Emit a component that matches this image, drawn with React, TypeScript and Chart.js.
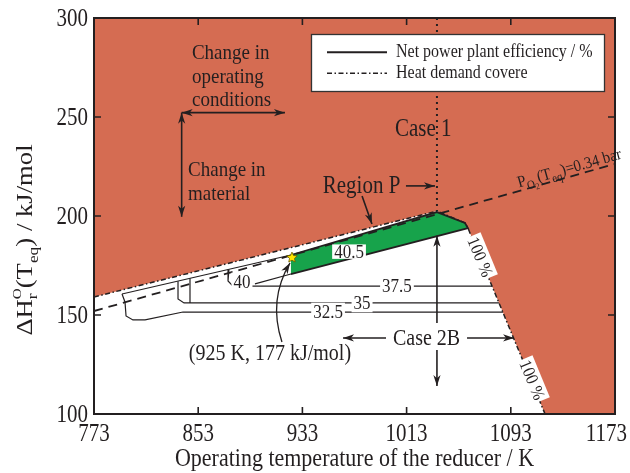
import React, { useEffect, useRef } from "react";
import { Chart, registerables } from "chart.js";

Chart.register(...registerables);

const FONT = "'Liberation Serif', 'Times New Roman', serif";
const INK = "#231f20";
const RED = "#d56c52";
const GREEN = "#17a34b";

// ---------- axes ----------
const xTicks = [773, 853, 933, 1013, 1093, 1173];
const yTicks = [100, 150, 200, 250, 300];
const xTitle = "Operating temperature of the reducer / K";
const legendLabels = ["Net power plant efficiency / %", "Heat demand covere"];

// ---------- boundaries ----------
// heat demand covered (dash-dot) boundary
const heatDemandX = [773, 1036.3, 1057.8, 1060.1, 1119.3];
const heatDemandY = [159.1, 202.5, 196.5, 193.9, 100];
// infeasible region (above boundary)
const redRegionX = [773, 1036.3, 1057.8, 1060.1, 1119.3, 1173, 1173, 773];
const redRegionY = [159.1, 202.5, 196.5, 193.9, 100, 100, 300, 300];
// Region P (40.5 %)
const regionPX = [924.2, 1036.3, 1057.8, 1060.1, 924.2];
const regionPY = [180.3, 202.0, 196.5, 193.9, 170.7];
// P_O2(T_eq) = 0.34 bar
const pO2X = [773, 1173];
const pO2Y = [152.0, 226.3];
// Case 1 (dotted)
const case1X = [1036.3, 1036.3];
const case1Y = [300, 202.5];

// ---------- efficiency contours ----------
const effTopX = [794.5, 924.2];
const effTopY = [160.6, 180.3];
const eff325X = [794.5, 796.8, 797.6, 802.9, 812.2, 841.3, 1087.0];
const eff325Y = [160.6, 156.6, 149.5, 147.5, 147.5, 151.5, 151.5];
const eff35X = [837.5, 837.5, 842.1, 1083.9];
const eff35Y = [167.1, 158.1, 156.1, 156.1];
const eff375HookX = [846.7, 846.7];
const eff375HookY = [168.5, 156.1];
const eff375X = [876.6, 875.9, 879.7, 1078.6];
const eff375Y = [173.0, 167.2, 164.6, 164.6];
const eff40X = [896.6, 924.2];
const eff40Y = [165.7, 170.7];

const contourLabels = ["40.5", "40", "37.5", "35", "32.5"];
const contourLabelX = [968.8, 886.6, 1005.6, 978.8, 952.7];
const contourLabelY = [182.0, 166.7, 164.6, 156.1, 151.5];

const hundredLabelX = [1069.6, 1109.5];
const hundredLabelY = [179.3, 117.2];

// optimum point (925 K, 177 kJ/mol)
const optimumX = [925];
const optimumY = [179];

// ---------- annotations (data coords) ----------
const notes = [
  { t: "Case 1", x: 1025.8, y: 240.4, size: 21, align: "center" },
  { t: "Region P", x: 978.4, y: 211.6, size: 21, align: "center" },
  { t: "Change in", x: 848.2, y: 279.3, size: 19, align: "left" },
  { t: "operating", x: 848.2, y: 267.4, size: 19, align: "left" },
  { t: "conditions", x: 848.2, y: 255.6, size: 19, align: "left" },
  { t: "Change in", x: 845.2, y: 220.1, size: 19, align: "left" },
  { t: "material", x: 845.2, y: 208.2, size: 19, align: "left" },
  { t: "(925 K, 177 kJ/mol)", x: 908.1, y: 127.3, size: 20, align: "center" },
  { t: "Case 2B", x: 1028.3, y: 134.8, size: 20, align: "center" },
];

const arrows = [
  { x1: 840.3, y1: 252.2, x2: 919.6, y2: 252.2, both: true },
  { x1: 840.3, y1: 252.2, x2: 840.3, y2: 199.6, both: true },
  { x1: 978.8, y1: 210.1, x2: 986.4, y2: 196.0, both: false },
  { x1: 1012.5, y1: 215.2, x2: 1034.8, y2: 215.2, both: false },
  { x1: 997.2, y1: 138.4, x2: 964.2, y2: 138.4, both: false },
  { x1: 1059.4, y1: 138.4, x2: 1095.5, y2: 138.4, both: false },
  { x1: 1036.3, y1: 146.0, x2: 1036.3, y2: 190.0, both: false },
  { x1: 1036.3, y1: 132.3, x2: 1036.3, y2: 114.1, both: false },
];
const curveArrow = { x1: 917.3, y1: 136.4, cx: 906.6, cy: 157.6, x2: 923.5, y2: 176.3 };

const pts = (xs: number[], ys: number[]) => xs.map((x, i) => ({ x, y: ys[i] }));

function head(ctx: any, x: number, y: number, ang: number) {
  const len = 11, half = 3.6;
  ctx.save();
  ctx.translate(x, y);
  ctx.rotate(ang);
  ctx.beginPath();
  ctx.moveTo(0, 0);
  ctx.lineTo(-len, -half);
  ctx.lineTo(-len * 0.72, 0);
  ctx.lineTo(-len, half);
  ctx.closePath();
  ctx.fill();
  ctx.restore();
}

function txt(ctx: any, s: string, x: number, y: number, size: number, align: any = "left", baseline: any = "alphabetic", stretch = 1.15) {
  ctx.save();
  ctx.translate(x, y);
  ctx.scale(1, stretch);
  ctx.font = `${size}px ${FONT}`;
  ctx.textAlign = align;
  ctx.textBaseline = baseline;
  ctx.fillStyle = INK;
  ctx.fillText(s, 0, 0);
  ctx.restore();
}

function boxed(ctx: any, s: string, x: number, y: number, size: number, angle = 0, hFrac = 1.2) {
  ctx.save();
  ctx.translate(x, y);
  ctx.rotate(angle);
  ctx.font = `${size}px ${FONT}`;
  const w = ctx.measureText(s).width;
  ctx.fillStyle = "#fff";
  ctx.fillRect(-w / 2 - 2, -size * hFrac / 2, w + 4, size * hFrac);
  ctx.scale(1, 1.1);
  ctx.fillStyle = INK;
  ctx.textAlign = "center";
  ctx.textBaseline = "middle";
  ctx.fillText(s, 0, 1);
  ctx.restore();
}

function rich(ctx: any, pieces: any[], startX: number) {
  let x = startX;
  for (const p of pieces) {
    if (p.stack) {
      let mw = 0;
      for (const q of p.stack) {
        ctx.font = `${q.size}px ${FONT}`;
        ctx.fillText(q.t, x, q.dy);
        mw = Math.max(mw, ctx.measureText(q.t).width);
      }
      x += mw;
    } else {
      ctx.font = `${p.size}px ${FONT}`;
      ctx.fillText(p.t, x, p.dy);
      x += ctx.measureText(p.t).width;
    }
  }
  return x - startX;
}

function richWidth(ctx: any, pieces: any[]) {
  let w = 0;
  for (const p of pieces) {
    if (p.stack) {
      let mw = 0;
      for (const q of p.stack) {
        ctx.font = `${q.size}px ${FONT}`;
        mw = Math.max(mw, ctx.measureText(q.t).width);
      }
      w += mw;
    } else {
      ctx.font = `${p.size}px ${FONT}`;
      w += ctx.measureText(p.t).width;
    }
  }
  return w;
}

const decorPlugin = {
  id: "decor",
  afterDatasetsDraw(chart: any) {
    const ctx = chart.ctx;
    const a = chart.chartArea;
    const xs = chart.scales.x;
    const ys = chart.scales.y;
    const X = (v: number) => xs.getPixelForValue(v);
    const Y = (v: number) => ys.getPixelForValue(v);
    ctx.save();
    ctx.fillStyle = INK;
    ctx.strokeStyle = INK;

    // legend
    const lx = a.left + 217, ly = a.top + 16, lw = 293, lh = 57;
    ctx.fillStyle = "#fff";
    ctx.fillRect(lx, ly, lw, lh);
    ctx.strokeStyle = "#333";
    ctx.lineWidth = 1.3;
    ctx.strokeRect(lx + 0.5, ly + 0.5, lw, lh);
    ctx.strokeStyle = INK;
    ctx.lineWidth = 2;
    ctx.setLineDash([]);
    ctx.beginPath();
    ctx.moveTo(lx + 16, ly + 18.3);
    ctx.lineTo(lx + 76, ly + 18.3);
    ctx.stroke();
    ctx.lineWidth = 1.4;
    ctx.setLineDash([5, 2.5, 1.5, 2.5]);
    ctx.beginPath();
    ctx.moveTo(lx + 16, ly + 39.3);
    ctx.lineTo(lx + 76, ly + 39.3);
    ctx.stroke();
    ctx.setLineDash([]);
    txt(ctx, legendLabels[0], lx + 85, ly + 22.7, 16);
    txt(ctx, legendLabels[1], lx + 85, ly + 44.3, 16);

    // contour labels
    contourLabels.forEach((s, i) => boxed(ctx, s, X(contourLabelX[i]), Y(contourLabelY[i]), 17, 0, i === 0 ? 0.85 : 1.1));

    // 100 % labels along the boundary
    const n = heatDemandX.length;
    const ang = Math.atan2(Y(heatDemandY[n - 1]) - Y(heatDemandY[n - 2]), X(heatDemandX[n - 1]) - X(heatDemandX[n - 2]));
    hundredLabelX.forEach((v, i) => boxed(ctx, "100 %", X(v), Y(hundredLabelY[i]), 16, ang));

    // P_O2 label
    {
      const sx = 1100;
      const slope = (pO2Y[1] - pO2Y[0]) / (pO2X[1] - pO2X[0]);
      const sy = pO2Y[0] + (sx - pO2X[0]) * slope;
      const pa = Math.atan2(Y(pO2Y[1]) - Y(pO2Y[0]), X(pO2X[1]) - X(pO2X[0]));
      ctx.save();
      ctx.translate(X(sx), Y(sy));
      ctx.rotate(pa);
      ctx.scale(1, 1.1);
      ctx.fillStyle = INK;
      ctx.textAlign = "left";
      ctx.textBaseline = "alphabetic";
      rich(ctx, [
        { t: "P", size: 15, dy: -3 },
        { t: "O", size: 11, dy: 1 },
        { t: "2", size: 8, dy: 3 },
        { t: "(T", size: 15, dy: -3 },
        { t: "eq", size: 11, dy: 1 },
        { t: ")=0.34 bar", size: 15, dy: -3 },
      ], 0);
      ctx.restore();
    }

    // optimum star
    {
      const cx = X(optimumX[0]), cy = Y(optimumY[0]);
      ctx.beginPath();
      for (let k = 0; k < 10; k++) {
        const r = k % 2 === 0 ? 5.5 : 2.6;
        const t = -Math.PI / 2 + (k * Math.PI) / 5;
        const px = cx + r * Math.cos(t), py = cy + r * Math.sin(t);
        if (k === 0) ctx.moveTo(px, py); else ctx.lineTo(px, py);
      }
      ctx.closePath();
      ctx.fillStyle = "#ffe500";
      ctx.fill();
      ctx.lineWidth = 0.8;
      ctx.strokeStyle = "#6b5a00";
      ctx.stroke();
    }

    // notes
    notes.forEach((nt) => txt(ctx, nt.t, X(nt.x), Y(nt.y), nt.size, nt.align));

    // arrows
    ctx.fillStyle = INK;
    ctx.strokeStyle = INK;
    ctx.lineWidth = 1.6;
    arrows.forEach((ar) => {
      const x1 = X(ar.x1), y1 = Y(ar.y1), x2 = X(ar.x2), y2 = Y(ar.y2);
      ctx.beginPath();
      ctx.moveTo(x1, y1);
      ctx.lineTo(x2, y2);
      ctx.stroke();
      const an = Math.atan2(y2 - y1, x2 - x1);
      head(ctx, x2, y2, an);
      if (ar.both) head(ctx, x1, y1, an + Math.PI);
    });
    {
      const c = curveArrow;
      const x1 = X(c.x1), y1 = Y(c.y1), qx = X(c.cx), qy = Y(c.cy), x2 = X(c.x2), y2 = Y(c.y2);
      ctx.lineWidth = 1.3;
      ctx.beginPath();
      ctx.moveTo(x1, y1);
      ctx.quadraticCurveTo(qx, qy, x2, y2);
      ctx.stroke();
      head(ctx, x2, y2, Math.atan2(y2 - qy, x2 - qx));
    }

    // frame
    ctx.lineWidth = 2;
    ctx.strokeStyle = INK;
    ctx.strokeRect(a.left, a.top, a.right - a.left, a.bottom - a.top);
    ctx.lineWidth = 1.6;
    ctx.beginPath();
    xTicks.slice(1, -1).forEach((v) => {
      const x = X(v);
      ctx.moveTo(x, a.bottom); ctx.lineTo(x, a.bottom - 7);
      ctx.moveTo(x, a.top); ctx.lineTo(x, a.top + 7);
    });
    yTicks.slice(1, -1).forEach((v) => {
      const y = Y(v);
      ctx.moveTo(a.left, y); ctx.lineTo(a.left + 7, y);
      ctx.moveTo(a.right, y); ctx.lineTo(a.right - 7, y);
    });
    ctx.stroke();

    // tick labels
    ctx.font = `21px ${FONT}`;
    xTicks.forEach((v) => {
      const w = ctx.measureText(String(v)).width;
      let cx = X(v);
      if (cx + w / 2 > chart.width - 3) cx = chart.width - 3 - w / 2;
      txt(ctx, String(v), cx, a.bottom + 27, 21, "center");
    });
    yTicks.forEach((v) => {
      txt(ctx, String(v), a.left - 6, Y(v) + 8, 21, "right");
    });

    // x title
    txt(ctx, xTitle, (a.left + a.right) / 2, a.bottom + 52, 22, "center", "alphabetic", 1.1);

    // y title
    {
      const pieces = [
        { t: "\u0394H", size: 23, dy: 0 },
        { stack: [{ t: "O", size: 13, dy: -11 }, { t: "r", size: 15, dy: 5 }] },
        { t: "(T", size: 23, dy: 0 },
        { t: "eq", size: 15, dy: 6 },
        { t: ") / kJ/mol", size: 23, dy: 0 },
      ];
      ctx.save();
      ctx.translate(32, 240);
      ctx.rotate(-Math.PI / 2);
      ctx.scale(1.16, 1);
      ctx.fillStyle = INK;
      ctx.textAlign = "left";
      ctx.textBaseline = "alphabetic";
      const w = richWidth(ctx, pieces);
      rich(ctx, pieces, -w / 2);
      ctx.restore();
    }
    ctx.restore();
  },
};

export default function App() {
  const ref = useRef<HTMLCanvasElement | null>(null);
  useEffect(() => {
    document.body.style.margin = "0";
    const canvas = ref.current;
    if (!canvas) return;
    const line = (label: string, xs: number[], ys: number[], extra: any = {}) => ({
      label,
      data: pts(xs, ys),
      borderColor: INK,
      borderWidth: 1.2,
      pointRadius: 0,
      fill: false,
      tension: 0,
      ...extra,
    });
    const chart = new Chart(canvas, {
      type: "line",
      data: {
        datasets: [
          line("eff40", eff40X, eff40Y),
          line("eff37.5", eff375X, eff375Y),
          line("eff37.5 hook", eff375HookX, eff375HookY),
          line("eff35", eff35X, eff35Y),
          line("eff32.5", eff325X, eff325Y),
          line("eff top", effTopX, effTopY),
          line("Case 1", case1X, case1Y, { borderDash: [2, 4], borderWidth: 2 }),
          line("PO2", pO2X, pO2Y, { borderDash: [9, 6], borderWidth: 1.8 }),
          line(legendLabels[1], heatDemandX, heatDemandY, { borderDash: [5, 2.5, 1.5, 2.5], borderWidth: 1.5 }),
          line("Region P", regionPX, regionPY, { fill: "shape", backgroundColor: GREEN, borderWidth: 1.8 }),
          line("infeasible", redRegionX, redRegionY, { fill: "shape", backgroundColor: RED, borderColor: "rgba(0,0,0,0)" }),
        ] as any,
      },
      options: {
        animation: false,
        responsive: false,
        events: [],
        layout: { padding: { left: 0, right: 15, top: 18, bottom: 0 } },
        plugins: { legend: { display: false }, tooltip: { enabled: false } },
        scales: {
          x: {
            type: "linear",
            min: 773,
            max: 1173,
            afterBuildTicks: (s: any) => { s.ticks = xTicks.map((v) => ({ value: v })); },
            afterFit: (s: any) => { s.height = 59; },
            grid: { display: false, drawTicks: false },
            border: { display: false },
            ticks: { display: false },
          },
          y: {
            type: "linear",
            min: 100,
            max: 300,
            afterBuildTicks: (s: any) => { s.ticks = yTicks.map((v) => ({ value: v })); },
            afterFit: (s: any) => { s.width = 94; },
            grid: { display: false, drawTicks: false },
            border: { display: false },
            ticks: { display: false },
          },
        },
      } as any,
      plugins: [decorPlugin],
    });
    return () => chart.destroy();
  }, []);
  return <canvas ref={ref} width={630} height={473} style={{ display: "block" }} />;
}
